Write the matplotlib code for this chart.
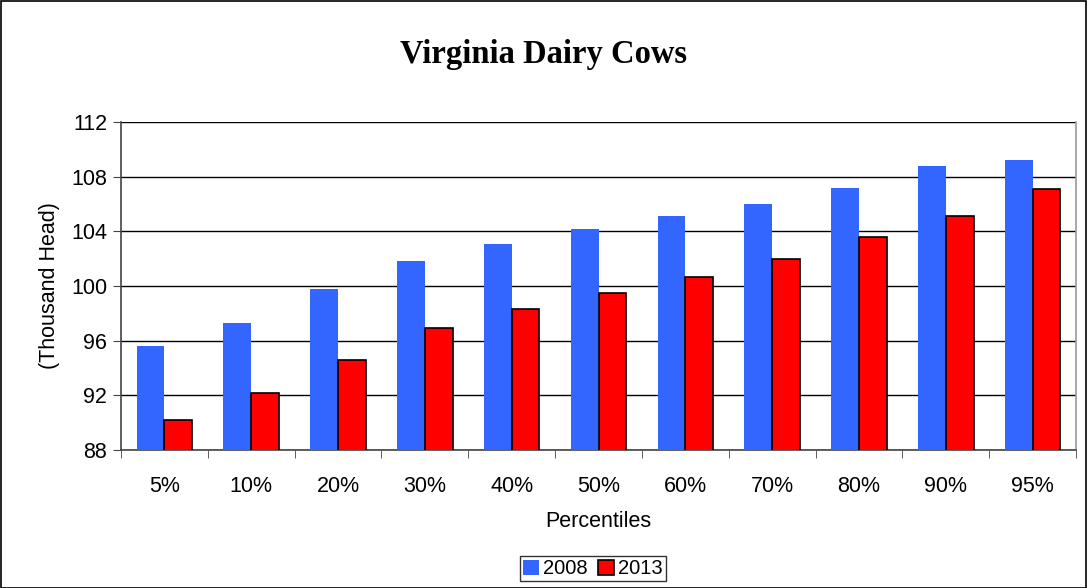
import matplotlib
matplotlib.use("Agg")
import matplotlib.pyplot as plt
import numpy as np
from matplotlib.patches import Rectangle

categories = ["5%", "10%", "20%", "30%", "40%", "50%", "60%", "70%", "80%", "90%", "95%"]
series_2008 = [95.6, 97.3, 99.8, 101.8, 103.1, 104.2, 105.1, 106.0, 107.2, 108.8, 109.2]
series_2013 = [90.2, 92.2, 94.6, 96.9, 98.3, 99.5, 100.65, 102.0, 103.6, 105.1, 107.1]
yticks = [88, 92, 96, 100, 104, 108, 112]

plt.rcParams['font.family'] = ['Liberation Sans', 'DejaVu Sans']

fig = plt.figure(figsize=(10.88, 5.88), dpi=100)
fig.patches.append(Rectangle((0.0005, 0.0005), 0.998, 0.998, transform=fig.transFigure,
                             fill=False, edgecolor='black', linewidth=1.2))
ax = fig.add_axes([0.1112, 0.2347, 0.8778, 0.5578])

x = np.arange(len(categories))
w = 0.32
ax.bar(x - w / 2, series_2008, width=w, color='#3366FF', edgecolor='none', label='2008', zorder=3)
ax.bar(x + w / 2, series_2013, width=w, color='#FF0000', edgecolor='black', linewidth=1.2,
       label='2013', zorder=3)

fs = 15.5
ax.set_ylim(88, 112)
ax.set_xlim(-0.5, len(categories) - 0.5)
ax.set_yticks(yticks)
ax.set_yticklabels([str(t) for t in yticks], fontsize=fs)
ax.set_xticks(x)
ax.set_xticklabels(categories, fontsize=fs)
ax.tick_params(axis='x', length=0, pad=19)
ax.set_xticks(np.arange(-0.5, len(categories), 1), minor=True)
ax.tick_params(axis='x', which='minor', length=6, color='#444444', direction='out')
ax.tick_params(axis='y', length=6, color='#444444', direction='out', pad=4)

ax.yaxis.grid(True, color='black', linewidth=1.0, zorder=0)
ax.set_axisbelow(True)
ax.spines['top'].set_visible(False)
ax.spines['left'].set_color('#444444')
ax.spines['bottom'].set_color('#444444')
ax.spines['right'].set_color('#999999')
for s in ax.spines.values():
    s.set_linewidth(1.2)

ax.set_ylabel('(Thousand Head)', fontsize=fs, labelpad=8)
ax.set_xlabel('Percentiles', fontsize=fs, labelpad=10)

fig.text(0.5, 0.908, 'Virginia Dairy Cows', ha='center', va='center',
         fontsize=23.5, fontweight='bold', family=['Liberation Serif', 'DejaVu Serif'])

leg = fig.legend(loc='center', bbox_to_anchor=(0.545, 0.0325), ncol=2, fontsize=14.5,
                 frameon=True, fancybox=False, edgecolor='black', handlelength=0.8,
                 handleheight=0.8, handletextpad=0.2, columnspacing=0.5, borderpad=0.15,
                 borderaxespad=0)
leg.get_frame().set_linewidth(1.0)

fig.savefig('out.png', dpi=100)
